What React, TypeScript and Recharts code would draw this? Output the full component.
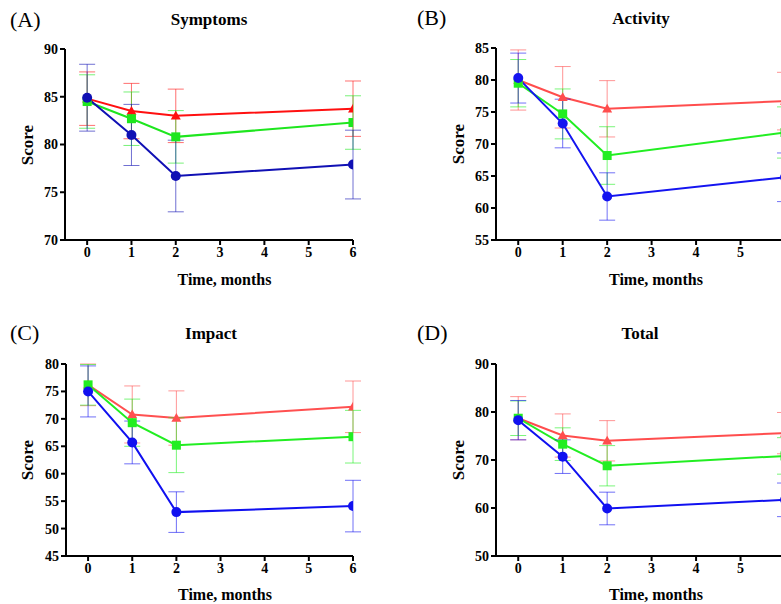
import React from "react";
import { LineChart, Line, XAxis, YAxis, ErrorBar } from "recharts";

const months = [0, 1, 2, 6];
const xTicks = [0, 1, 2, 3, 4, 5, 6];
const xTicksVisible = [0, 1, 2, 3, 4, 5];

// (A) Symptoms
const symptomsRed = [84.8, 83.5, 83.0, 83.75];
const symptomsRedErr = [2.8, 2.9, 2.8, 2.9];
const symptomsGreen = [84.5, 82.7, 80.8, 82.3];
const symptomsGreenErr = [2.8, 2.8, 2.75, 2.8];
const symptomsBlue = [84.9, 81.0, 76.7, 77.9];
const symptomsBlueErr = [3.5, 3.2, 3.75, 3.6];
const symptomsTicks = [70, 75, 80, 85, 90];

// (B) Activity
const activityRed = [80.0, 77.3, 75.5, 76.7];
const activityRedErr = [4.7, 4.8, 4.4, 4.5];
const activityGreen = [79.5, 74.7, 68.2, 71.8];
const activityGreenErr = [3.7, 3.9, 4.5, 4.0];
const activityBlue = [80.3, 73.2, 61.8, 64.8];
const activityBlueErr = [3.9, 3.8, 3.7, 3.8];
const activityTicks = [55, 60, 65, 70, 75, 80, 85];

// (C) Impact
const impactRed = [76.2, 70.8, 70.15, 72.2];
const impactRedErr = [3.8, 5.2, 4.95, 4.7];
const impactGreen = [76.2, 69.3, 65.2, 66.75];
const impactGreenErr = [3.7, 4.3, 5.0, 4.8];
const impactBlue = [75.0, 65.7, 53.0, 54.1];
const impactBlueErr = [4.65, 3.9, 3.7, 4.7];
const impactTicks = [45, 50, 55, 60, 65, 70, 75, 80];

// (D) Total
const totalRed = [78.7, 75.1, 74.0, 75.6];
const totalRedErr = [4.5, 4.5, 4.2, 4.3];
const totalGreen = [78.7, 73.3, 68.8, 70.85];
const totalGreenErr = [3.6, 3.4, 4.2, 3.8];
const totalBlue = [78.3, 70.7, 59.9, 61.7];
const totalBlueErr = [4.1, 3.5, 3.4, 3.5];
const totalTicks = [50, 60, 70, 80, 90];

const FONT = "'Liberation Serif', 'Times New Roman', Times, serif";

function build(r: number[], rE: number[], g: number[], gE: number[], b: number[], bE: number[]) {
  return months.map((t, i) => ({ t, r: r[i], rE: rE[i], g: g[i], gE: gE[i], b: b[i], bE: bE[i] }));
}

const Tri = (color: string) => (p: any) => {
  const { cx, cy, index } = p;
  if (cx == null || cy == null) return <g key={"t" + index} />;
  const s = 5;
  return (
    <path
      key={"t" + index}
      d={`M${cx},${cy - s} L${cx + s},${cy + s * 0.75} L${cx - s},${cy + s * 0.75} Z`}
      fill={color}
    />
  );
};
const Sq = (color: string) => (p: any) => {
  const { cx, cy, index } = p;
  if (cx == null || cy == null) return <g key={"s" + index} />;
  return <rect key={"s" + index} x={cx - 4.5} y={cy - 4.5} width={9} height={9} fill={color} />;
};
const Circ = (color: string) => (p: any) => {
  const { cx, cy, index } = p;
  if (cx == null || cy == null) return <g key={"c" + index} />;
  return <circle key={"c" + index} cx={cx} cy={cy} r={5} fill={color} />;
};

type PanelProps = {
  left: number;
  top: number;
  width: number;
  height: number;
  margin: { top: number; right: number; bottom: number; left: number };
  data: any[];
  yDomain: [number, number];
  yTicks: number[];
  xTickList: number[];
  red: string;
  green: string;
  blue: string;
};

function Panel(p: PanelProps) {
  const tickStyle = { fontFamily: FONT, fontWeight: 700, fontSize: 14, fill: "#000" };
  const axisLine = { stroke: "#000", strokeWidth: 2 };
  const tickLine = { stroke: "#000", strokeWidth: 2 };
  return (
    <div style={{ position: "absolute", left: p.left, top: p.top, fontFamily: FONT }}>
      <LineChart width={p.width} height={p.height} data={p.data} margin={p.margin}>
        <XAxis
          dataKey="t"
          type="number"
          domain={[-0.5, 6]}
          ticks={p.xTickList}
          allowDataOverflow
          interval={0}
          height={30}
          tickSize={5}
          tickMargin={2}
          axisLine={axisLine}
          tickLine={tickLine}
          tick={tickStyle}
        />
        <YAxis
          type="number"
          domain={p.yDomain}
          ticks={p.yTicks}
          interval={0}
          width={40}
          tickSize={5}
          tickMargin={2}
          axisLine={axisLine}
          tickLine={tickLine}
          tick={tickStyle}
        />
        <Line
          dataKey="r"
          type="linear"
          stroke={p.red}
          strokeWidth={2}
          dot={Tri(p.red)}
          activeDot={false}
          isAnimationActive={false}
        >
          <ErrorBar dataKey="rE" width={8} stroke={p.red} strokeWidth={1} strokeOpacity={0.6} isAnimationActive={false} />
        </Line>
        <Line
          dataKey="g"
          type="linear"
          stroke={p.green}
          strokeWidth={2}
          dot={Sq(p.green)}
          activeDot={false}
          isAnimationActive={false}
        >
          <ErrorBar dataKey="gE" width={8} stroke={p.green} strokeWidth={1} strokeOpacity={0.6} isAnimationActive={false} />
        </Line>
        <Line
          dataKey="b"
          type="linear"
          stroke={p.blue}
          strokeWidth={2}
          dot={Circ(p.blue)}
          activeDot={false}
          isAnimationActive={false}
        >
          <ErrorBar dataKey="bE" width={8} stroke={p.blue} strokeWidth={1} strokeOpacity={0.6} isAnimationActive={false} />
        </Line>
      </LineChart>
    </div>
  );
}

function Txt(props: { x: number; y: number; text: string; size: number; bold?: boolean; rotate?: boolean; anchorLeft?: boolean }) {
  const tr = props.anchorLeft
    ? "translate(0,-50%)"
    : props.rotate
    ? "translate(-50%,-50%) rotate(-90deg)"
    : "translate(-50%,-50%)";
  return (
    <div
      style={{
        position: "absolute",
        left: props.x,
        top: props.y,
        transform: tr,
        fontFamily: FONT,
        fontSize: props.size,
        fontWeight: props.bold ? 700 : 400,
        whiteSpace: "nowrap",
        lineHeight: 1,
        color: "#000",
      }}
    >
      {props.text}
    </div>
  );
}

export default function App() {
  const dA = build(symptomsRed, symptomsRedErr, symptomsGreen, symptomsGreenErr, symptomsBlue, symptomsBlueErr);
  const dB = build(activityRed, activityRedErr, activityGreen, activityGreenErr, activityBlue, activityBlueErr);
  const dC = build(impactRed, impactRedErr, impactGreen, impactGreenErr, impactBlue, impactBlueErr);
  const dD = build(totalRed, totalRedErr, totalGreen, totalGreenErr, totalBlue, totalBlueErr);
  return (
    <div
      style={{
        position: "absolute",
        left: 0,
        top: 0,
        width: 781,
        height: 604,
        overflow: "hidden",
        background: "#fff",
      }}
    >
      <Panel
        left={0}
        top={0}
        width={390}
        height={300}
        margin={{ top: 49, right: 37, bottom: 30, left: 25 }}
        data={dA}
        yDomain={[70, 90]}
        yTicks={symptomsTicks}
        xTickList={xTicks}
        red="#ff1010"
        green="#1ee61e"
        blue="#1010b4"
      />
      <Panel
        left={390}
        top={0}
        width={430}
        height={300}
        margin={{ top: 48, right: 35, bottom: 30, left: 66 }}
        data={dB}
        yDomain={[55, 85]}
        yTicks={activityTicks}
        xTickList={xTicksVisible}
        red="#ff4d4d"
        green="#22ee22"
        blue="#1414f0"
      />
      <Panel
        left={0}
        top={300}
        width={390}
        height={304}
        margin={{ top: 64, right: 37, bottom: 18, left: 26 }}
        data={dC}
        yDomain={[45, 80]}
        yTicks={impactTicks}
        xTickList={xTicks}
        red="#ff5050"
        green="#22ee22"
        blue="#1010f0"
      />
      <Panel
        left={390}
        top={300}
        width={430}
        height={304}
        margin={{ top: 64, right: 35, bottom: 18, left: 66 }}
        data={dD}
        yDomain={[50, 90]}
        yTicks={totalTicks}
        xTickList={xTicksVisible}
        red="#ff4d4d"
        green="#22ee22"
        blue="#1010f0"
      />

      <Txt x={10} y={20} text="(A)" size={22} anchorLeft />
      <Txt x={417} y={18} text="(B)" size={22} anchorLeft />
      <Txt x={10} y={333} text="(C)" size={22} anchorLeft />
      <Txt x={417} y={333} text="(D)" size={22} anchorLeft />

      <Txt x={209} y={19} text="Symptoms" size={17} bold />
      <Txt x={641} y={18} text="Activity" size={17} bold />
      <Txt x={211} y={333} text="Impact" size={17} bold />
      <Txt x={640} y={333} text="Total" size={17} bold />

      <Txt x={224.5} y={280} text="Time, months" size={16} bold />
      <Txt x={656} y={280} text="Time, months" size={16} bold />
      <Txt x={225} y={595} text="Time, months" size={16} bold />
      <Txt x={656} y={595} text="Time, months" size={16} bold />

      <Txt x={27} y={145} text="Score" size={17} bold rotate />
      <Txt x={458} y={144} text="Score" size={17} bold rotate />
      <Txt x={27} y={460} text="Score" size={17} bold rotate />
      <Txt x={458} y={460} text="Score" size={17} bold rotate />
    </div>
  );
}
